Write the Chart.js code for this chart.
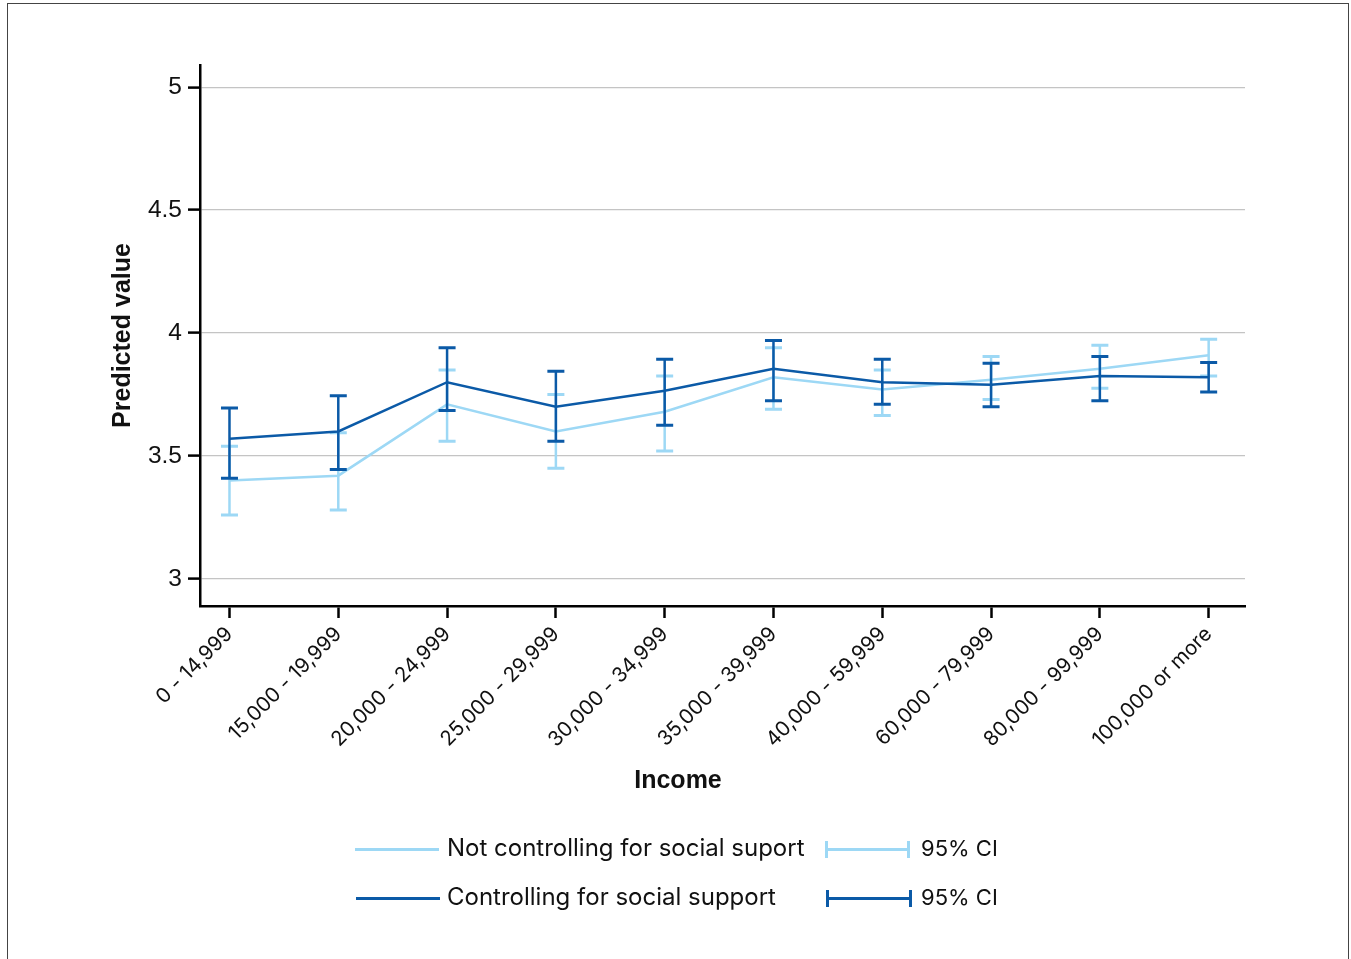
<!DOCTYPE html>
<html>
<head>
<meta charset="utf-8">
<script src="https://cdn.jsdelivr.net/npm/chart.js@4.4.1/dist/chart.umd.min.js"></script>
<style>
  html, body { margin: 0; padding: 0; background: #fff; overflow: hidden; }
  #wrap { position: relative; width: 1351px; height: 959px; }
  #frame { position: absolute; left: 7px; top: 3px; width: 1342px; height: 1000px;
           border: 1.5px solid #444; box-sizing: border-box; }
  canvas { position: absolute; left: 0; top: 0; }
  .lg { position: absolute; font-family: Inter, "Noto Sans", sans-serif; font-size: 24px;
        color: #111; line-height: 1; white-space: nowrap; }
  .ci { font-size: 22px; }
  .ln { position: absolute; height: 3px; }
  .cap { position: absolute; width: 3px; height: 17px; }
  #xtitle { position: absolute; left: 578px; width: 200px; top: 764px; text-align: center;
            font-family: "Liberation Sans", Arial, sans-serif; font-weight: bold; font-size: 25px;
            line-height: 30px; color: #111; }
</style>
</head>
<body>
<div id="wrap">
  <div id="frame"></div>
  <canvas id="c" width="1351" height="959"></canvas>
  <div id="xtitle">Income</div>
  <div id="legend"></div>
</div>
<script>
// Income brackets along the x axis
const categories = ['0 - 14,999', '15,000 - 19,999', '20,000 - 24,999', '25,000 - 29,999',
  '30,000 - 34,999', '35,000 - 39,999', '40,000 - 59,999', '60,000 - 79,999',
  '80,000 - 99,999', '100,000 or more'];

// Predicted values and 95% confidence limits, model without social support
const notCtrlMean  = [3.40, 3.42, 3.71, 3.60, 3.68, 3.82, 3.77, 3.81, 3.855, 3.91];
const notCtrlLower = [3.26, 3.28, 3.56, 3.45, 3.52, 3.69, 3.665, 3.73, 3.775, 3.825];
const notCtrlUpper = [3.54, 3.595, 3.85, 3.75, 3.825, 3.94, 3.85, 3.905, 3.95, 3.975];

// Predicted values and 95% confidence limits, model with social support
const ctrlMean  = [3.57, 3.60, 3.80, 3.70, 3.765, 3.855, 3.80, 3.79, 3.825, 3.82];
const ctrlLower = [3.41, 3.445, 3.685, 3.56, 3.625, 3.725, 3.71, 3.70, 3.725, 3.76];
const ctrlUpper = [3.695, 3.745, 3.94, 3.845, 3.893, 3.97, 3.893, 3.877, 3.905, 3.88];

const yTicks = [3, 3.5, 4, 4.5, 5];

const lightBlue = '#9dd8f5';
const darkBlue = '#0b5aa7';

const toPoints = arr => arr.map((v, i) => ({ x: i, y: v }));

// Draws the confidence interval whiskers of each dataset right after its line
const errorBars = {
  id: 'errorBars',
  afterDatasetDraw(chart, args) {
    const ds = chart.data.datasets[args.index];
    if (!ds.lower) return;
    const { ctx, scales: { x, y } } = chart;
    const half = 8.5;
    ctx.save();
    ctx.strokeStyle = ds.borderColor;
    ds.lower.forEach((lo, i) => {
      const px = x.getPixelForValue(i);
      const pLo = y.getPixelForValue(lo);
      const pHi = y.getPixelForValue(ds.upper[i]);
      ctx.lineWidth = 2.5;
      ctx.beginPath();
      ctx.moveTo(px, pLo);
      ctx.lineTo(px, pHi);
      ctx.stroke();
      ctx.lineWidth = 3;
      ctx.beginPath();
      ctx.moveTo(px - half, pLo); ctx.lineTo(px + half, pLo);
      ctx.moveTo(px - half, pHi); ctx.lineTo(px + half, pHi);
      ctx.stroke();
    });
    ctx.restore();
  }
};

new Chart(document.getElementById('c'), {
  type: 'line',
  data: {
    datasets: [
      {
        label: 'Not controlling for social suport',
        data: toPoints(notCtrlMean),
        lower: notCtrlLower,
        upper: notCtrlUpper,
        borderColor: lightBlue,
        borderWidth: 2.5,
        pointRadius: 0,
        tension: 0,
        order: 2
      },
      {
        label: 'Controlling for social support',
        data: toPoints(ctrlMean),
        lower: ctrlLower,
        upper: ctrlUpper,
        borderColor: darkBlue,
        borderWidth: 2.5,
        pointRadius: 0,
        tension: 0,
        order: 1
      }
    ]
  },
  options: {
    responsive: false,
    animation: false,
    layout: { padding: { left: 108, top: 65, right: 106, bottom: 165.6 } },
    plugins: { legend: { display: false }, tooltip: { enabled: false } },
    scales: {
      x: {
        type: 'linear',
        min: -0.271,
        max: 9.334,
        afterBuildTicks: s => { s.ticks = categories.map((_, i) => ({ value: i })); },
        afterFit: s => { s.height = 187.4; },
        grid: { drawOnChartArea: false, tickLength: 12, tickColor: '#000', tickWidth: 2.5 },
        border: { display: true, color: '#000', width: 2.5 },
        ticks: {
          minRotation: 45,
          maxRotation: 45,
          padding: 4,
          color: '#111',
          font: { family: 'Inter', size: 20.5 },
          callback: v => categories[v]
        },
        title: { display: false }
      },
      y: {
        min: 2.89,
        max: 5.09,
        afterBuildTicks: s => { s.ticks = yTicks.map(v => ({ value: v })); },
        afterFit: s => { s.width = 92; },
        grid: { color: '#c4c4c4', lineWidth: 1.2, tickLength: 12, tickColor: '#000', tickWidth: 2.5 },
        border: { display: true, color: '#000', width: 2.5 },
        ticks: {
          padding: 6,
          color: '#111',
          font: { family: 'Liberation Sans', size: 24.5 },
          callback: v => String(v)
        },
        title: {
          display: true,
          text: 'Predicted value',
          color: '#111',
          padding: 0,
          font: { family: 'Liberation Sans', size: 25, weight: 'bold' }
        }
      }
    }
  },
  plugins: [errorBars]
});

// Legend rows: series line with its label, then the CI whisker with its label
const legendRows = [
  { color: lightBlue, text: 'Not controlling for social suport', y: 849, lx: 355, lw: 84, cx: 826, cw: 83 },
  { color: darkBlue, text: 'Controlling for social support', y: 898, lx: 356, lw: 84, cx: 827, cw: 84 }
];
const legend = document.getElementById('legend');
legendRows.forEach(r => {
  legend.insertAdjacentHTML('beforeend',
    `<div class="ln" style="left:${r.lx}px;top:${r.y - 1.5}px;width:${r.lw}px;background:${r.color}"></div>` +
    `<div class="lg" style="left:447px;top:${r.y - 13}px">${r.text}</div>` +
    `<div class="ln" style="left:${r.cx}px;top:${r.y - 1.5}px;width:${r.cw}px;background:${r.color}"></div>` +
    `<div class="cap" style="left:${r.cx - 1}px;top:${r.y - 8.5}px;background:${r.color}"></div>` +
    `<div class="cap" style="left:${r.cx + r.cw - 2}px;top:${r.y - 8.5}px;background:${r.color}"></div>` +
    `<div class="lg ci" style="left:921px;top:${r.y - 12}px">95% CI</div>`);
});
</script>
</body>
</html>
